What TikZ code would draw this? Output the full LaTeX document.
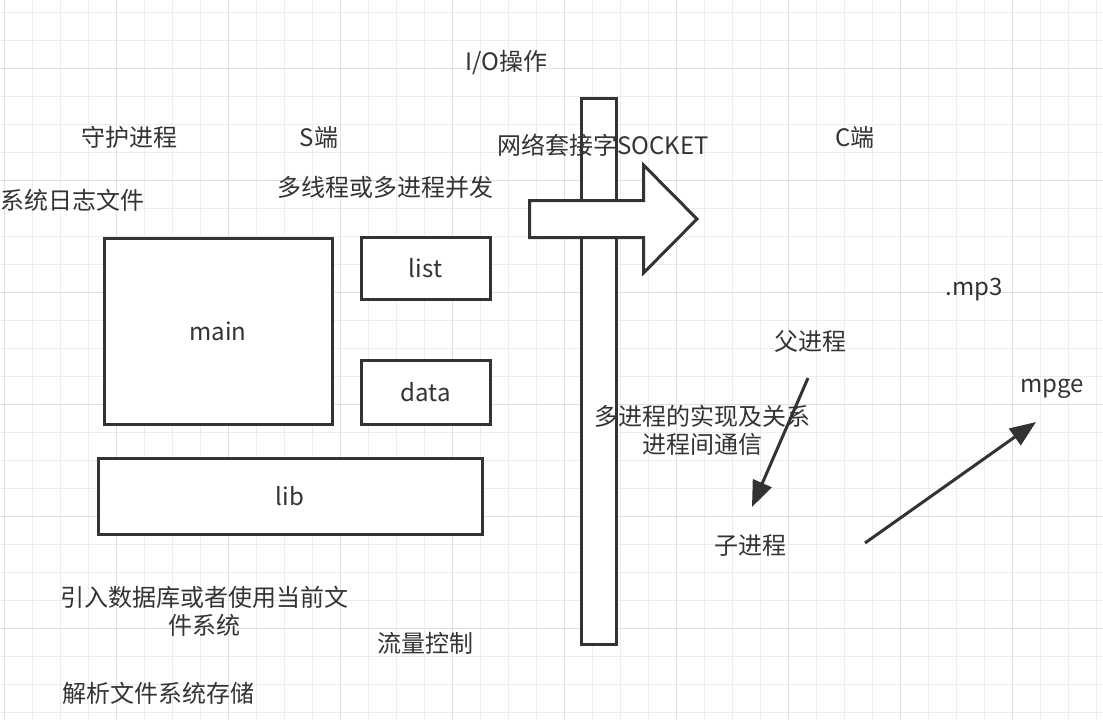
\documentclass[tikz,border=0pt]{standalone}
\usepackage{fontspec}
\newfontfamily\cjk{Noto Sans CJK SC}
\usetikzlibrary{arrows.meta}
\definecolor{ink}{HTML}{333333}
\definecolor{gridminor}{HTML}{EDEDED}
\definecolor{gridmajor}{HTML}{E0E0E0}
\begin{document}
\begin{tikzpicture}[x=1pt, y=-1pt,
  every node/.style={font=\cjk\fontsize{24}{28}\selectfont, text=ink, inner sep=0pt},
  box/.style={draw=ink, line width=3pt, fill=white},
  note/.style={align=center},
  link/.style={draw=ink, line width=3pt, -{Triangle[length=26pt, width=20pt]}}]
  \useasboundingbox[fill=white] (0,0) rectangle (1103,720);

  % background grid
  \foreach \k in {0,...,39}
    \draw[gridminor, line width=1pt] (4+28*\k,0) -- (4+28*\k,720);
  \foreach \k in {0,...,25}
    \draw[gridminor, line width=1pt] (0,12+28*\k) -- (1103,12+28*\k);
  \foreach \k in {0,4,...,36}
    \draw[gridmajor, line width=1pt] (4+28*\k,0) -- (4+28*\k,720);
  \foreach \k in {2,6,...,22}
    \draw[gridmajor, line width=1pt] (0,12+28*\k) -- (1103,12+28*\k);

  % server side blocks
  \node[box, minimum width=228pt, minimum height=186pt] (main) at (218,331) {main};
  \node[box, minimum width=129pt, minimum height=62pt] (list) at (425.5,268) {list};
  \node[box, minimum width=129pt, minimum height=64pt] (data) at (425.5,392) {data};
  \node[box, minimum width=384pt, minimum height=76pt] (lib) at (290,496) {lib};

  % socket bar and transfer arrow
  \draw[ink, line width=3pt, fill=white] (581.5,98.5) rectangle (616.5,644);
  \draw[ink, line width=3pt, fill=white, line join=miter]
    (529.5,200.5) -- (643.5,200.5) -- (643.5,165) -- (697,219)
    -- (643.5,273) -- (643.5,237.5) -- (529.5,237.5) -- cycle;

  % labels
  \node (io) at (506,63) {I/O操作};
  \node (daemon) at (129,137) {守护进程};
  \node (sside) at (319,137) {S端};
  \node (socket) at (603,145) {网络套接字SOCKET};
  \node (cside) at (855,137) {C端};
  \node (syslog) at (73,200) {系统日志文件};
  \node (concur) at (385,187) {多线程或多进程并发};
  \node (mpthree) at (974,290) {.mp3};
  \node (parent) at (810,341) {父进程};
  \node (mpge) at (1052,389) {mpge};
  \node[note] (multi) at (702,430) {多进程的实现及关系\\进程间通信};
  \node (child) at (750,546) {子进程};
  \node[note] (dbfile) at (204,611) {引入数据库或者使用当前文\\件系统};
  \node (flow) at (425,643) {流量控制};
  \node (parse) at (158,693) {解析文件系统存储};

  % arrows
  \coordinate (pstart) at (808,378);
  \coordinate (pend) at (752,507);
  \coordinate (mstart) at (865,543);
  \coordinate (mend) at (1036,422);
  \draw[link] (pstart) -- (pend);
  \draw[link] (mstart) -- (mend);
\end{tikzpicture}
\end{document}
